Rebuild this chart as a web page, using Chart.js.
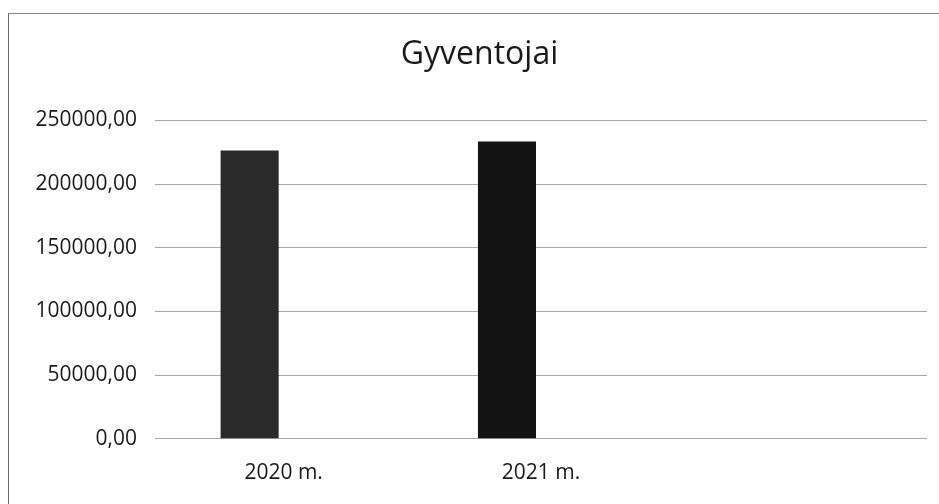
<!DOCTYPE html>
<html>
<head>
<meta charset="utf-8">
<script src="https://cdn.jsdelivr.net/npm/chart.js@4"></script>
<style>
  html, body { margin: 0; padding: 0; background: #fff; width: 939px; height: 504px; overflow: hidden; }
  #wrap { position: absolute; left: 0; top: 0; width: 966px; height: 504px; }
  #frame { position: absolute; left: 8px; top: 13px; width: 1000px; height: 600px;
           border-left: 1px solid #6a6a6a; border-top: 1px solid #8a8a8a; pointer-events: none; }
  canvas { position: absolute; left: 0; top: 0; }
</style>
</head>
<body>
<div id="wrap">
  <canvas id="c" width="966" height="504"></canvas>
</div>
<div id="frame"></div>
<script>
// ---- data ----
const chartTitle = 'Gyventojai';
const categories = ['2020 m.', '2021 m.', ''];
const population = [226400, 233500, null];
const secondSeries = [null, null, null];   // empty series in the original workbook (occupies a slot)
const yMin = 0;
const yMax = 250000;
const yStep = 50000;

const fmt = v => Number(v).toFixed(2).replace('.', ',');

new Chart(document.getElementById('c'), {
  type: 'bar',
  data: {
    labels: categories,
    datasets: [
      {
        label: chartTitle,
        data: population,
        backgroundColor: ['#2a2a2a', '#131313', '#131313'],
        borderWidth: 0,
        categoryPercentage: 0.529,
        barPercentage: 0.853
      },
      {
        label: '',
        data: secondSeries,
        backgroundColor: '#555',
        borderWidth: 0,
        categoryPercentage: 0.529,
        barPercentage: 0.853
      }
    ]
  },
  options: {
    responsive: false,
    animation: false,
    devicePixelRatio: 1,
    layout: { padding: { left: 32, right: 39, top: 0, bottom: 4 } },
    plugins: {
      legend: { display: false },
      tooltip: { enabled: false },
      title: {
        display: true,
        text: chartTitle,
        color: '#1a1a1a',
        font: { family: 'Open Sans', size: 32, weight: 'normal' },
        padding: { top: 36, bottom: 46 }
      }
    },
    scales: {
      x: {
        grid: { display: false },
        border: { display: false },
        ticks: {
          color: '#1a1a1a',
          font: { family: 'Open Sans', size: 21 },
          padding: 14,
          maxRotation: 0
        }
      },
      y: {
        min: yMin,
        max: yMax,
        afterFit: s => { s.width = 123; },
        grid: { color: '#a8a8a8', lineWidth: 1, drawTicks: false },
        border: { display: false },
        ticks: {
          stepSize: yStep,
          color: '#1a1a1a',
          font: { family: 'Open Sans', size: 21 },
          padding: 18,
          callback: v => fmt(v)
        }
      }
    }
  }
});
</script>
</body>
</html>
